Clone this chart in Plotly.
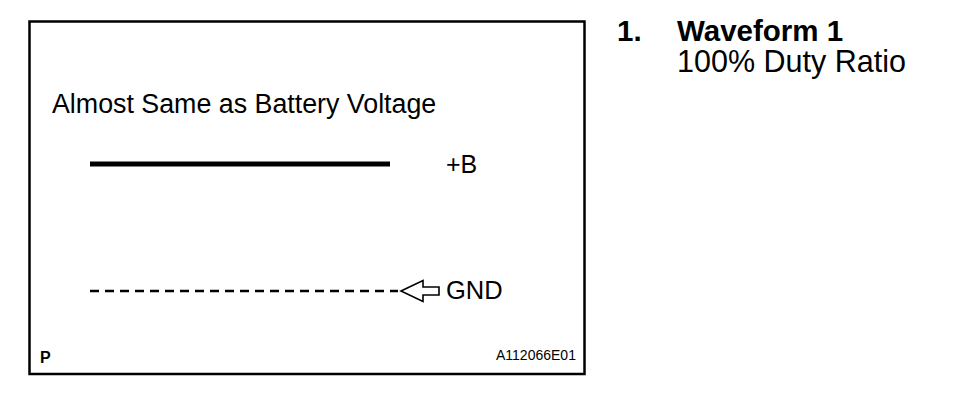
import plotly.graph_objects as go

# ---- data ----
plus_b_time = [0, 300]      # +B trace span (time units)
plus_b_level = [1, 1]       # normalized voltage: +B
gnd_time = [0, 308]         # GND reference span
gnd_level = [0, 0]          # normalized voltage: GND

title_text = "Almost Same as Battery Voltage"
level_labels = ["+B", "GND"]
header_num = "1."
header_title = "Waveform 1"
header_sub = "100% Duty Ratio"
corner_label = "P"
figure_id = "A112066E01"

W, H = 960, 410
OFF = 8  # page body margin
FONT = "Liberation Sans, Arial, sans-serif"


def px(x):
    return (x - OFF) / W


def py(y):
    return 1 - (y - OFF) / H


fig = go.Figure()

fig.add_trace(go.Scatter(x=plus_b_time, y=plus_b_level, mode="lines",
                         line=dict(color="black", width=5), hoverinfo="skip",
                         showlegend=False))
fig.add_trace(go.Scatter(x=gnd_time, y=gnd_level, mode="lines",
                         line=dict(color="black", width=2.6, dash="9px,6px"),
                         hoverinfo="skip", showlegend=False))

# waveform axes: x range [-10, 318] -> pixels 80..408 ; y: GND at 291, +B at 164
ypix_per_unit = 291 - 164
fig.update_xaxes(range=[-10, 318], domain=[px(80), px(408)], visible=False)
fig.update_yaxes(range=[-0.5, 1.5],
                 domain=[py(291 + 0.5 * ypix_per_unit), py(164 - 0.5 * ypix_per_unit)],
                 visible=False)

shapes = []
# frame
shapes.append(dict(type="rect", xref="paper", yref="paper",
                   x0=px(29.5), x1=px(584.5), y0=py(21.5), y1=py(374),
                   line=dict(color="black", width=2.5), fillcolor="rgba(0,0,0,0)"))
# outline arrow pointing left
pts = [(401, 291), (423, 280.5), (423, 287), (439, 287), (439, 295),
       (423, 295), (423, 301.5)]
path = "M " + " L ".join(f"{px(x):.5f},{py(y):.5f}" for x, y in pts) + " Z"
shapes.append(dict(type="path", xref="paper", yref="paper", path=path,
                   line=dict(color="black", width=1.6), fillcolor="white"))

annotations = []


def txt(x, y, s, size, bold=False, anchor="left"):
    annotations.append(dict(x=px(x), y=py(y), xref="paper", yref="paper",
                            text=f"<b>{s}</b>" if bold else s, showarrow=False,
                            xanchor=anchor, yanchor="middle",
                            font=dict(family=FONT, size=size, color="black")))


txt(50, 103.5, title_text, 26.8)
txt(444, 164, level_labels[0], 25)
txt(444, 290, level_labels[1], 25.5)
txt(38, 357, corner_label, 16, bold=True)
txt(494, 355, figure_id, 14)
txt(615, 30, header_num, 29.5, bold=True)
txt(675, 30, header_title, 29.5, bold=True)
txt(675, 61, header_sub, 30.5)

fig.update_layout(width=W, height=H, margin=dict(l=0, r=0, t=0, b=0),
                  paper_bgcolor="white", plot_bgcolor="white",
                  shapes=shapes, annotations=annotations)

fig.write_html("out.html")
